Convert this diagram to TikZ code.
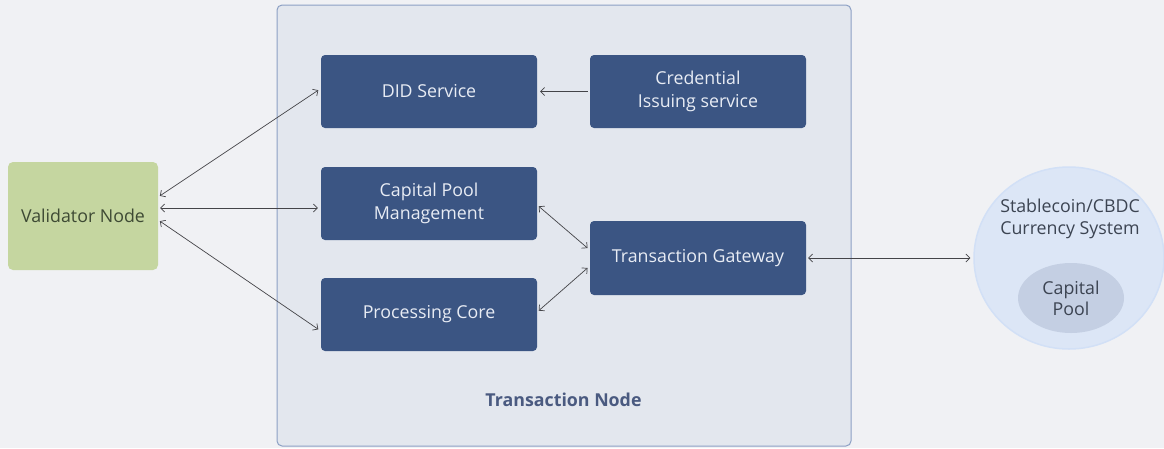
\documentclass[tikz,border=0pt]{standalone}
\usepackage{fontspec}
\setmainfont{Open Sans}
\usetikzlibrary{arrows.meta,shapes.geometric}
\definecolor{pagebg}{RGB}{240,241,244}
\definecolor{txnfill}{RGB}{227,231,238}
\definecolor{txnline}{RGB}{140,160,196}
\definecolor{boxblue}{RGB}{59,85,131}
\definecolor{boxtext}{RGB}{232,236,244}
\definecolor{valgreen}{RGB}{197,214,160}
\definecolor{valtext}{RGB}{62,74,52}
\definecolor{currfill}{RGB}{220,230,246}
\definecolor{currline}{RGB}{210,224,246}
\definecolor{poolfill}{RGB}{196,207,227}
\definecolor{currtext}{RGB}{60,68,82}
\definecolor{labelblue}{RGB}{74,90,128}
\definecolor{arrowgrey}{RGB}{68,68,72}

\begin{document}
\begin{tikzpicture}[x=10pt, y=-10pt,
		svc/.style={rectangle, rounded corners=4pt, fill=boxblue, text=boxtext,
			minimum width=216pt, minimum height=73pt, align=center,
			font=\fontsize{17.8}{23.5}\selectfont},
		link/.style={arrowgrey, line width=0.7pt, >={Straight Barb[length=4pt,width=8pt]},
			shorten <=2pt, shorten >=3pt}]
			%%%%% START %%%%%
			
			\fill[pagebg] (0, 0) rectangle (116.4, 44.8);
			\useasboundingbox (0, 0) rectangle (116.4, 44.8);
			
			% transaction node
			\node[rectangle, rounded corners=5pt, draw=txnline, line width=1pt, fill=txnfill,
				minimum width=574pt, minimum height=441pt] (txn) at (56.4, 22.55) {};
			\node[text=labelblue, font=\fontsize{17.8}{20}\selectfont\bfseries] (txnlbl) at (56.35, 40.0) {Transaction Node};
			
			\node[svc] (did) at (42.9, 9.15) {DID Service};
			\node[svc] (cred) at (69.8, 9.15) {Credential\\Issuing service};
			\node[svc] (pool) at (42.9, 20.35) {Capital Pool\\Management};
			\node[svc] (core) at (42.9, 31.45) {Processing Core};
			\node[svc, minimum height=74pt] (gate) at (69.8, 25.8) {Transaction Gateway};
			
			% validator
			\node[rectangle, rounded corners=5pt, fill=valgreen, text=valtext,
				minimum width=150pt, minimum height=108pt,
				font=\fontsize{17.8}{20}\selectfont] (val) at (8.3, 21.6) {Validator Node};
			
			% currency system
			\node[ellipse, draw=currline, line width=1.5pt, fill=currfill,
				minimum width=190pt, minimum height=182pt] (curr) at (106.9, 25.8) {};
			\node[text=currtext, align=center, font=\fontsize{17.8}{22}\selectfont] (currlbl) at (107.0, 21.9) {Stablecoin/CBDC\\Currency System};
			\node[ellipse, fill=poolfill, text=currtext, align=center, inner sep=0pt,
				minimum width=106pt, minimum height=70pt,
				font=\fontsize{17.8}{21}\selectfont] (cpool) at (107.1, 29.8) {Capital\\Pool};
			
			% links
			\draw[link, <->] ([yshift=19pt]val.east) -- ([yshift=3pt]did.west);
			\draw[link, <->] ([yshift=8pt]val.east) -- ([yshift=-4.5pt]pool.west);
			\draw[link, <->] ([yshift=-4pt]val.east) -- ([yshift=-16.5pt]core.west);
			\draw[link, ->] (cred.west) -- (did.east);
			\draw[link, <->] ([yshift=-1.5pt]pool.east) -- ([yshift=8pt]gate.west);
			\draw[link, <->] ([yshift=2.5pt]core.east) -- ([yshift=-8pt]gate.west);
			\draw[link, <->] (gate.east) -- (curr.west);
			
			%%%%% END %%%%%
		\end{tikzpicture}
\end{document}
